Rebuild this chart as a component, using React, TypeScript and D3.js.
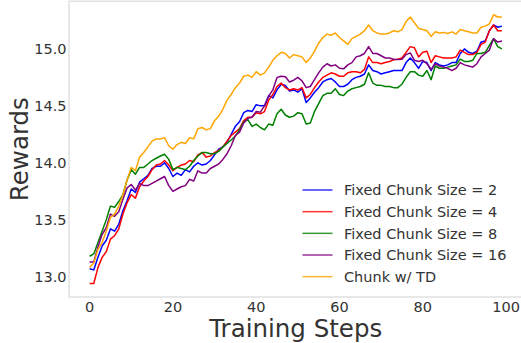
import React from "react";
import * as d3 from "d3";

const steps: number[] = Array.from({ length: 100 }, (_, i) => i);

const chunk2: number[] = [
  13.07, 13.06, 13.17, 13.27, 13.32, 13.42, 13.40, 13.46, 13.58, 13.67,
  13.77, 13.74, 13.83, 13.86, 13.89, 13.95, 13.97, 13.97, 14.00, 13.95,
  13.88, 13.91, 13.89, 13.94, 13.92, 13.97, 14.00, 13.98, 13.99, 14.02,
  14.07, 14.12, 14.14, 14.18, 14.25, 14.32, 14.36, 14.44, 14.46, 14.45,
  14.51, 14.50, 14.50, 14.59, 14.57, 14.64, 14.69, 14.68, 14.63, 14.64,
  14.62, 14.65, 14.53, 14.57, 14.62, 14.66, 14.71, 14.73, 14.74, 14.71,
  14.67, 14.67, 14.69, 14.73, 14.75, 14.76, 14.78, 14.86, 14.81, 14.80,
  14.78, 14.79, 14.80, 14.81, 14.81, 14.81, 14.88, 14.92, 14.88, 14.83,
  14.89, 14.88, 14.81, 14.88, 14.86, 14.85, 14.86, 14.88, 14.88, 14.96,
  15.00, 14.97, 14.96, 14.98, 15.06, 15.07, 15.16, 15.21, 15.19, 15.20,
];

const chunk4: number[] = [
  12.94, 12.94, 13.08, 13.17, 13.22, 13.33, 13.36, 13.42, 13.55, 13.65,
  13.72, 13.69, 13.79, 13.84, 13.88, 13.94, 13.98, 13.99, 14.02, 13.98,
  13.93, 13.96, 13.98, 13.99, 14.02, 14.01, 14.07, 14.09, 14.05, 14.06,
  14.09, 14.11, 14.14, 14.19, 14.24, 14.27, 14.30, 14.37, 14.40, 14.40,
  14.44, 14.43, 14.45, 14.55, 14.60, 14.67, 14.70, 14.66, 14.64, 14.65,
  14.64, 14.66, 14.57, 14.60, 14.66, 14.71, 14.75, 14.77, 14.79, 14.78,
  14.76, 14.76, 14.79, 14.80, 14.80, 14.79, 14.82, 14.93, 14.88, 14.88,
  14.87, 14.88, 14.89, 14.905, 14.91, 14.92, 14.97, 15.02, 15.01, 14.93,
  14.97, 14.98, 14.88, 14.94, 14.93, 14.92, 14.92, 14.92, 14.93, 14.99,
  14.97, 14.95, 14.95, 14.97, 15.04, 15.06, 15.16, 15.21, 15.16, 15.16,
];

const chunk8: number[] = [
  13.18, 13.20, 13.30, 13.40, 13.50, 13.62, 13.61, 13.66, 13.72, 13.85,
  13.94, 13.90, 13.96, 13.96, 13.99, 14.02, 14.04, 14.06, 14.075, 14.03,
  13.94, 13.96, 13.95, 13.94, 13.97, 14.02, 14.06, 14.09, 14.09, 14.08,
  14.08, 14.10, 14.14, 14.17, 14.20, 14.235, 14.29, 14.36, 14.38, 14.32,
  14.34, 14.31, 14.29, 14.34, 14.33, 14.43, 14.47, 14.42, 14.40, 14.41,
  14.44, 14.43, 14.34, 14.35, 14.45, 14.52, 14.59, 14.61, 14.61, 14.65,
  14.60, 14.59, 14.63, 14.65, 14.66, 14.67, 14.69, 14.79, 14.70, 14.68,
  14.68, 14.67, 14.67, 14.66, 14.66, 14.69, 14.75, 14.80, 14.80, 14.77,
  14.76, 14.81, 14.73, 14.85, 14.83, 14.83, 14.84, 14.85, 14.86, 14.91,
  14.89, 14.89, 14.90, 14.96, 14.96, 14.97, 15.03, 15.09, 15.02, 15.00,
];

const chunk16: number[] = [
  13.13, 13.13, 13.26, 13.37, 13.43, 13.55, 13.53, 13.57, 13.68, 13.78,
  13.81, 13.76, 13.82, 13.80, 13.80, 13.82, 13.84, 13.86, 13.88, 13.80,
  13.75, 13.77, 13.79, 13.80, 13.855, 13.84, 13.93, 13.91, 13.91, 13.95,
  13.97, 13.99, 14.03, 14.08, 14.15, 14.24, 14.27, 14.35, 14.39, 14.40,
  14.45, 14.445, 14.50, 14.585, 14.64, 14.75, 14.76, 14.755, 14.71, 14.725,
  14.75, 14.72, 14.66, 14.67, 14.73, 14.79, 14.84, 14.87, 14.85, 14.86,
  14.83, 14.825, 14.86, 14.88, 14.93, 14.94, 14.96, 15.02, 14.96, 14.96,
  14.94, 14.92, 14.92, 14.91, 14.906, 14.91, 14.95, 14.965, 14.90, 14.89,
  14.90, 14.87, 14.82, 14.87, 14.85, 14.84, 14.83, 14.81, 14.83, 14.88,
  14.86, 14.85, 14.84, 14.87, 14.93, 14.96, 14.99, 15.09, 15.06, 15.07,
];

const chunkTD: number[] = [
  13.08, 13.12, 13.24, 13.30, 13.40, 13.52, 13.55, 13.62, 13.72, 13.85,
  13.96, 13.93, 14.05, 14.09, 14.14, 14.19, 14.21, 14.21, 14.22, 14.15,
  14.12, 14.16, 14.18, 14.17, 14.22, 14.21, 14.30, 14.31, 14.29, 14.30,
  14.37, 14.41, 14.47, 14.55, 14.60, 14.66, 14.70, 14.76, 14.77, 14.75,
  14.80, 14.77, 14.79, 14.84, 14.90, 14.94, 14.97, 14.96, 14.92, 14.95,
  14.94, 14.93, 14.88, 14.92, 14.98, 15.05, 15.10, 15.13, 15.12, 15.14,
  15.10, 15.07, 15.04, 15.09, 15.11, 15.13, 15.16, 15.21, 15.16, 15.14,
  15.13, 15.13, 15.14, 15.16, 15.15, 15.17, 15.24, 15.28, 15.23, 15.18,
  15.17, 15.16, 15.11, 15.15, 15.14, 15.145, 15.135, 15.15, 15.13, 15.17,
  15.16, 15.15, 15.14, 15.14, 15.19, 15.20, 15.22, 15.30, 15.28, 15.28,
];

const seriesNames: string[] = [
  "Fixed Chunk Size = 2",
  "Fixed Chunk Size = 4",
  "Fixed Chunk Size = 8",
  "Fixed Chunk Size = 16",
  "Chunk w/ TD",
];
const seriesColors: string[] = ["#0000ff", "#ff0000", "#008000", "#800080", "#ffa500"];
const seriesData: number[][] = [chunk2, chunk4, chunk8, chunk16, chunkTD];

const xTicks: number[] = [0, 20, 40, 60, 80, 100];
const yTicks: number[] = [13.0, 13.5, 14.0, 14.5, 15.0];

const W = 521;
const H = 343;
const left = 69;
const right = 522.5;
const top = 1.3;
const bottom = 297;

export default function App() {
  const x = d3.scaleLinear().domain([-4.95, 103.95]).range([left, right]);
  const y = d3.scaleLinear().domain([12.822, 15.418]).range([bottom, top]);
  const line = d3
    .line<number>()
    .x((_, i) => x(steps[i]))
    .y((d) => y(d));
  const font = "DejaVu Sans, sans-serif";
  const textColor = "#333333";
  const legendX = 302.5;
  const legendY0 = 190;
  const legendDy = 21.67;

  return (
    <svg
      width={W}
      height={H}
      style={{ position: "absolute", left: 0, top: 0, background: "#fff" }}
      fontFamily={font}
    >
      <rect x={0} y={0} width={W} height={H} fill="#fff" />
      <rect
        x={left}
        y={top}
        width={right - left}
        height={bottom - top}
        fill="none"
        stroke="#e3e3e3"
        strokeWidth={1.6}
      />
      {seriesData.map((s, k) => (
        <path
          key={k}
          d={line(s) || ""}
          fill="none"
          stroke={seriesColors[k]}
          strokeWidth={1.5}
          strokeLinejoin="round"
        />
      ))}
      {xTicks.map((t) => (
        <text
          key={t}
          x={x(t)}
          y={311.7}
          textAnchor="middle"
          fontSize={14.5}
          fill={textColor}
        >
          {t}
        </text>
      ))}
      {yTicks.map((t) => (
        <text
          key={t}
          x={66.5}
          y={y(t) + 5.2}
          textAnchor="end"
          fontSize={14.5}
          fill={textColor}
        >
          {t.toFixed(1)}
        </text>
      ))}
      <text
        x={x(49.5)}
        y={336.5}
        textAnchor="middle"
        fontSize={24.5}
        fill={textColor}
      >
        Training Steps
      </text>
      <text
        transform={`translate(28,${(top + bottom) / 2}) rotate(-90)`}
        textAnchor="middle"
        fontSize={24.5}
        fill={textColor}
      >
        Rewards
      </text>
      {seriesNames.map((n, k) => (
        <g key={n}>
          <line
            x1={legendX}
            x2={legendX + 30}
            y1={legendY0 + k * legendDy}
            y2={legendY0 + k * legendDy}
            stroke={seriesColors[k]}
            strokeWidth={1.5}
            strokeOpacity={0.8}
          />
          <text
            x={344}
            y={legendY0 + k * legendDy + 5.2}
            fontSize={14.5}
            fill={textColor}
          >
            {n}
          </text>
        </g>
      ))}
    </svg>
  );
}
